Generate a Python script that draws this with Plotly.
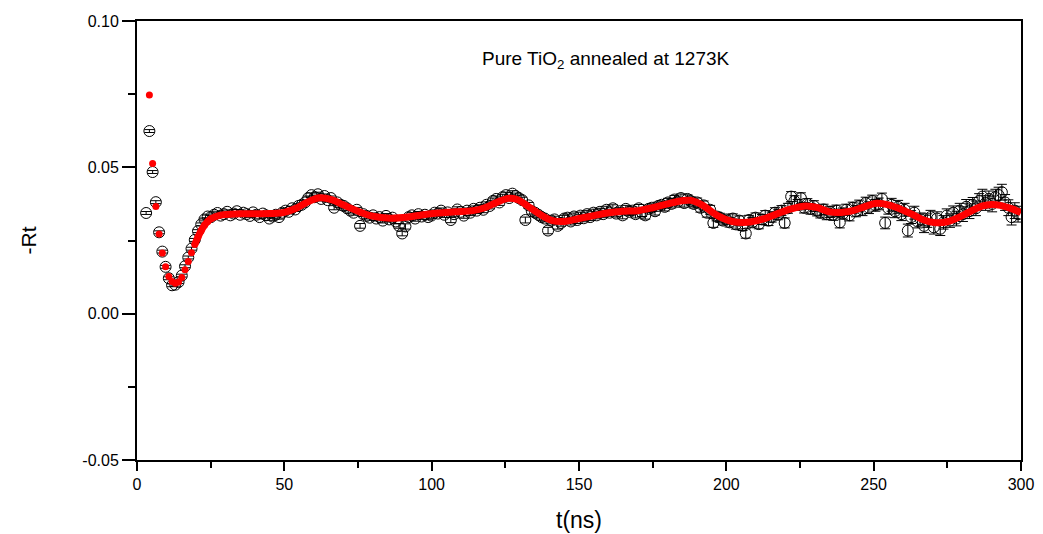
import numpy as np
import plotly.graph_objects as go

# ---- time channels (ns): regular grid of the spectrometer ----
T_START = 3.1
T_STEP = 1.1
N_CH = 270

rt_data_e4 = [
    344, 624, 484, 381, 278, 212, 160, 121, 97, 99,
    108, 130, 162, 192, 222, 252, 282, 305, 322, 332,
    330, 338, 344, 335, 340, 348, 336, 342, 350, 338,
    345, 340, 334, 346, 338, 330, 342, 336, 325, 332,
    338, 330, 345, 352, 348, 360, 356, 368, 372, 380,
    395, 405, 398, 408, 392, 402, 388, 395, 362, 380,
    372, 368, 360, 352, 345, 355, 300, 340, 334, 328,
    336, 325, 330, 318, 334, 322, 328, 315, 300, 274,
    298, 330, 336, 325, 340, 332, 338, 330, 335, 345,
    342, 352, 338, 346, 320, 340, 356, 348, 335, 352,
    345, 358, 352, 362, 355, 372, 368, 385, 392, 380,
    398, 405, 395, 410, 402, 395, 388, 320, 370, 350,
    345, 338, 330, 325, 284, 318, 322, 300, 310, 325,
    328, 315, 332, 320, 335, 326, 340, 330, 345, 336,
    348, 340, 355, 345, 360, 342, 350, 336, 358, 348,
    352, 340, 360, 345, 336, 358, 362, 350, 368, 372,
    365, 380, 375, 390, 382, 395, 378, 392, 385, 375,
    380, 362, 370, 345, 355, 310, 332, 328, 318, 322,
    312, 325, 305, 318, 300, 274, 320, 312, 328, 306,
    322, 335, 318, 330, 345, 338, 352, 310, 360, 400,
    385, 372, 395, 362, 375, 358, 368, 352, 345, 356,
    340, 348, 338, 352, 312, 342, 355, 336, 362, 350,
    368, 355, 378, 362, 385, 370, 375, 392, 310, 360,
    372, 350, 365, 340, 355, 284, 330, 345, 315, 322,
    300, 318, 330, 295, 325, 290, 312, 335, 318, 345,
    325, 352, 340, 365, 350, 372, 360, 385, 400, 378,
    392, 375, 398, 405, 415, 380, 362, 330, 352, 340,
]

# ---- error bars (units of 1e-4) ----
rt_err_e4 = [
    5, 5, 5, 5, 5, 5, 5, 5, 5, 5,
    5, 5, 5, 5, 5, 5, 5, 5, 5, 5,
    6, 6, 6, 6, 6, 6, 6, 6, 6, 6,
    6, 6, 6, 6, 6, 6, 6, 6, 6, 6,
    7, 7, 7, 7, 7, 7, 7, 7, 7, 7,
    7, 7, 7, 7, 7, 7, 7, 7, 7, 7,
    8, 8, 8, 8, 8, 8, 8, 8, 8, 8,
    8, 8, 8, 8, 8, 8, 8, 8, 8, 8,
    9, 9, 9, 9, 9, 9, 9, 9, 9, 9,
    9, 9, 9, 9, 9, 9, 9, 9, 9, 9,
    10, 10, 10, 10, 10, 10, 10, 10, 10, 10,
    10, 10, 10, 10, 10, 10, 10, 10, 10, 10,
    11, 11, 11, 11, 11, 11, 11, 11, 11, 11,
    12, 12, 12, 12, 12, 12, 12, 12, 12, 12,
    12, 12, 12, 12, 12, 12, 12, 12, 12, 12,
    13, 13, 13, 13, 13, 13, 13, 13, 13, 13,
    14, 14, 14, 14, 14, 14, 14, 14, 14, 14,
    15, 15, 15, 15, 15, 15, 15, 15, 15, 15,
    16, 16, 16, 16, 16, 16, 16, 16, 16, 16,
    17, 17, 17, 17, 17, 17, 17, 17, 17, 17,
    18, 18, 18, 18, 18, 18, 18, 18, 18, 18,
    19, 19, 19, 19, 19, 19, 19, 19, 19, 19,
    20, 20, 20, 20, 20, 20, 20, 20, 20, 20,
    22, 22, 22, 22, 22, 22, 22, 22, 22, 22,
    23, 23, 23, 23, 23, 23, 23, 23, 23, 23,
    25, 25, 25, 25, 25, 25, 25, 25, 25, 25,
    27, 27, 27, 27, 27, 27, 27, 27, 27, 27,
]

# ---- fit: early discrete points (t = 4.2 ... 25.1 ns) ----
fit_early_t = [4.2, 5.3, 6.4, 7.5, 8.6, 9.7, 10.8, 11.9, 13.0, 14.1,
               15.2, 16.3, 17.4, 18.5, 19.6, 20.7, 21.8, 22.9, 24.0, 25.1]
fit_early_e4 = [747, 513, 366, 272, 207, 160, 127, 110, 104, 108,
                124, 150, 178, 208, 236, 262, 284, 302, 315, 324]

# ---- fit: smooth part (key points) ----
fit_line_t = [19.6, 20.7, 21.8, 22.9, 24.0, 25.1, 28, 35, 45, 50, 54, 58, 62, 66, 70, 75,
              80, 86, 92, 97, 102, 108, 114, 118, 122, 126, 129, 133, 137, 141, 145, 150,
              155, 160, 165, 170, 175, 180, 185, 188, 192, 197, 202, 207, 212, 217, 222,
              227, 231, 235, 239, 243, 247, 251, 255, 259, 263, 267, 271, 275, 279, 283,
              287, 290, 293, 297, 300]
fit_line_e4 = [236, 262, 284, 302, 315, 324, 336, 341, 342, 346, 360, 382, 396, 390, 372, 350,
               333, 326, 330, 338, 344, 348, 352, 362, 380, 394, 390, 365, 338, 318, 315, 325,
               335, 345, 350, 352, 362, 375, 386, 387, 370, 335, 315, 312, 322, 340, 358,
               368, 362, 348, 346, 352, 366, 377, 372, 358, 340, 320, 311, 314, 330, 350,
               368, 373, 370, 358, 345]

x_tickvals = [0, 50, 100, 150, 200, 250, 300]
x_ticktext = ["0", "50", "100", "150", "200", "250", "300"]
y_tickvals = [-0.05, 0.00, 0.05, 0.10]
y_ticktext = ["-0.05", "0.00", "0.05", "0.10"]

t = np.round(T_START + T_STEP * np.arange(N_CH), 2)
rt = np.array(rt_data_e4) / 1e4
err = np.array(rt_err_e4) / 1e4

FONT = "Liberation Sans, Arial, sans-serif"

fig = go.Figure()

fig.add_trace(go.Scatter(
    x=t, y=rt, mode="markers",
    marker=dict(symbol="circle-open", size=11, color="black", line=dict(width=1, color="black")),
    error_y=dict(type="data", array=err, color="black", thickness=1, width=5, visible=True),
    showlegend=False,
))

fig.add_trace(go.Scatter(
    x=fit_line_t, y=np.array(fit_line_e4) / 1e4, mode="lines",
    line=dict(color="#ff0000", width=7, shape="spline", smoothing=1.0),
    showlegend=False,
))

fig.add_trace(go.Scatter(
    x=fit_early_t, y=np.array(fit_early_e4) / 1e4, mode="markers",
    marker=dict(symbol="circle", size=7, color="#ff0000"),
    showlegend=False,
))

axis_common = dict(
    showgrid=False, zeroline=False, automargin=False,
    showline=True, linecolor="black", linewidth=2, mirror=True,
    ticks="outside", tickcolor="black", tickwidth=2,
    tickfont=dict(family=FONT, size=16, color="black"),
)

fig.update_xaxes(
    range=[0, 300], tickvals=x_tickvals, ticktext=x_ticktext, ticklen=9,
    minor=dict(dtick=25, tick0=0, ticks="outside", ticklen=6, tickwidth=2, tickcolor="black"),
    title=dict(text="t(ns)", font=dict(family=FONT, size=23, color="black"), standoff=20),
    **axis_common,
)
fig.update_yaxes(
    range=[-0.05, 0.10], tickvals=y_tickvals, ticktext=y_ticktext, ticklen=13,
    minor=dict(dtick=0.025, tick0=0, ticks="outside", ticklen=7, tickwidth=2, tickcolor="black"),
    title=dict(text="-Rt", font=dict(family=FONT, size=21, color="black"), standoff=40),
    **axis_common,
)

fig.add_annotation(
    x=159, y=0.0866, xref="x", yref="y", showarrow=False,
    text="Pure TiO<sub>2</sub> annealed at 1273K",
    font=dict(family=FONT, size=19, color="black"),
)

# page body has an 8 px default margin: offset margins so the plot area
# lands at the same pixel positions as in the reference
fig.update_layout(
    width=1035, height=526,
    margin=dict(l=129, r=22, t=13, b=74),
    paper_bgcolor="white", plot_bgcolor="white",
    showlegend=False,
)

fig.write_html("out.html")
